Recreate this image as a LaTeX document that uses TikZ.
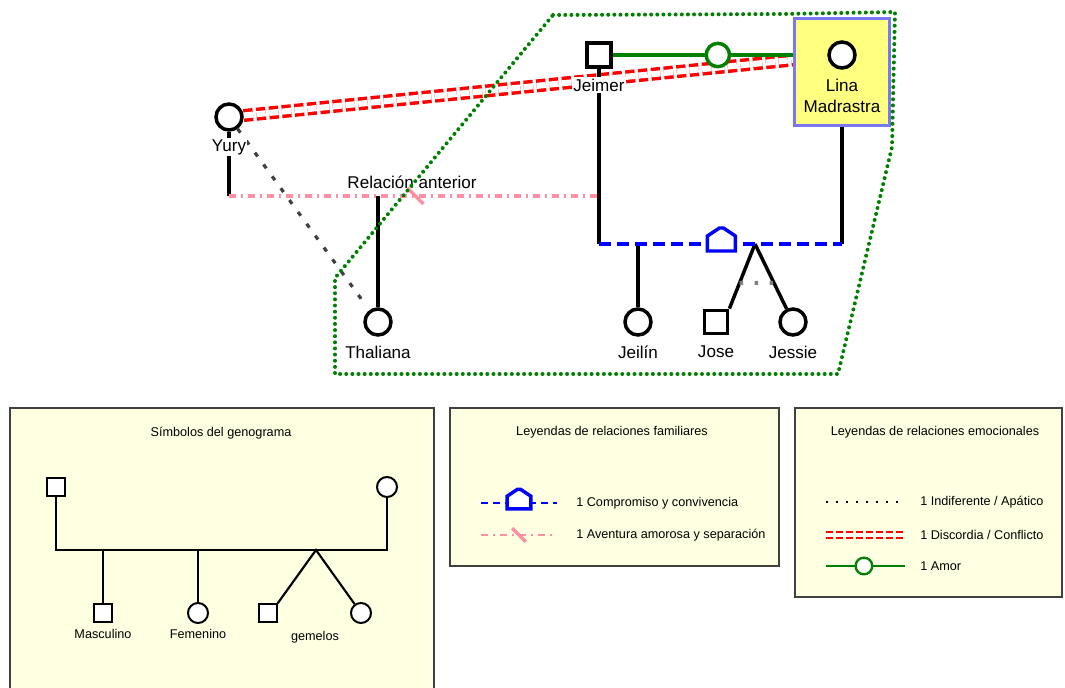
\documentclass[tikz,border=0pt]{standalone}
\usepackage{fontspec}
\setmainfont{Liberation Sans}
\usepackage{xcolor}
\usepackage{tikz}
\usetikzlibrary{positioning, shapes, shapes.geometric}
\definecolor{amorgreen}{HTML}{008000}
\definecolor{confred}{HTML}{FF0000}
\definecolor{pinkrel}{HTML}{FF8FA3}
\definecolor{darkdot}{HTML}{404040}
\definecolor{twingray}{HTML}{808080}
\definecolor{linafill}{HTML}{FFFF80}
\definecolor{linaedge}{HTML}{7878F0}
\definecolor{legfill}{HTML}{FFFFE1}
\definecolor{legedge}{HTML}{404040}
\pgfdeclarelayer{back}
\pgfsetlayers{back,main}

\begin{document}
\begin{tikzpicture}[x=0.75pt, y=-0.75pt, node distance=22.5pt,
			man/.style={rectangle, draw, fill=white, line width=2.6pt, minimum size=18pt, inner sep=0pt},
			woman/.style={circle, draw, fill=white, line width=2.6pt, minimum size=19.5pt, inner sep=0pt},
			lbl/.style={fill=white, inner sep=1pt, font=\fontsize{12.8}{15.75}\selectfont},
			kin/.style={draw=black, line width=2.6pt},
			conflict/.style={draw=confred, line width=2.6pt, double=white, double distance=4.6pt, dash pattern=on 7pt off 2.6pt},
			love/.style={draw=amorgreen, line width=2.6pt},
			ring/.style={circle, draw=amorgreen, fill=white, line width=2.6pt, minimum size=17.5pt, inner sep=0pt},
			indiff/.style={draw=darkdot, line width=2.4pt, dash pattern=on 3.5pt off 7.5pt, shorten >=6pt},
			affair/.style={draw=pinkrel, line width=2.8pt, dash pattern=on 5.25pt off 3.75pt on 1.5pt off 3.75pt},
			cohab/.style={draw=blue, line width=2.6pt, dash pattern=on 9pt off 4.5pt},
			twinlink/.style={draw=twingray, line width=3pt, dash pattern=on 2.6pt off 8.65pt},
			fam/.style={draw=amorgreen, line width=3pt, line cap=round, dash pattern=on 0pt off 4.6pt},
			legbox/.style={rectangle, draw=legedge, fill=legfill, line width=1.1pt, inner sep=0pt},
			legtxt/.style={inner sep=0pt, font=\fontsize{9.5}{11.5}\selectfont},
			house/.pic={\draw[draw=blue, line width=2.6pt, fill=white] (-14,7) -- (-14,-8) -- (-2,-16) -- (2,-16) -- (14,-8) -- (14,7) -- cycle;},
			cut/.pic={\draw[draw=pinkrel, line width=2.6pt] (-8,-8) -- (8,8);}]
			\useasboundingbox (0,0) rectangle (1065,688);
			
			% family
			\node[woman] (yury) at (229,117) {};
			\node[lbl, below of=yury] (yury-l) {Yury};
			\node[man] (jeimer) at (599,55) {};
			\node[lbl, below of=jeimer] (jeimer-l) {Jeimer};
			\node[rectangle, draw=linaedge, fill=linafill, line width=2.6pt, minimum width=71pt, minimum height=80pt] (linabox) at (842,72) {};
			\node[woman] (lina) at (842,55) {};
			\node[lbl, fill=none, align=center] (lina-l) at (842,96) {Lina\\Madrastra};
			\node[woman] (thaliana) at (378,322) {};
			\node[lbl, below of=thaliana] (thaliana-l) {Thaliana};
			\node[woman] (jeilin) at (638,322) {};
			\node[lbl, below of=jeilin] (jeilin-l) {Jeilín};
			\node[man, minimum size=17.5pt] (jose) at (716,322) {};
			\node[lbl, below of=jose] (jose-l) {Jose};
			\node[woman] (jessie) at (793,322) {};
			\node[lbl, below of=jessie] (jessie-l) {Jessie};
			\node[lbl, fill=none] (rel-l) at (412,182) {Relación anterior};
			
			\coordinate (prev-l) at (229,196);
			\coordinate (prev-r) at (599,196);
			\coordinate (cpl-l) at (599,244);
			\coordinate (cpl-r) at (842,244);
			\coordinate (twin-top) at (755,244);
			
			\begin{pgfonlayer}{back}
				\draw (yury) edge[conflict] (lina);
				\draw (jeimer) edge[love] node[ring, pos=0.49] (amor) {} (lina);
				\draw (yury) edge[indiff] (thaliana);
				\draw[kin] (yury) -- (prev-l);
				\draw[kin] (jeimer) -- (cpl-l);
				\draw[kin] (linabox) -- (cpl-r);
				\draw[kin] (thaliana |- prev-l) -- (thaliana);
				\draw[affair] (prev-l) -- coordinate[pos=0.504] (prev-cut) (prev-r);
				\pic at (prev-cut) {cut};
				\draw[kin] (jeilin |- cpl-l) -- (jeilin);
				\draw[kin] (twin-top) -- coordinate[pos=0.6] (tw1) (jose.north east);
				\draw[kin] (twin-top) -- coordinate[pos=0.6] (tw2) (jessie);
				\draw[twinlink] (tw1) -- (tw2);
				\draw[cohab] (cpl-l) -- coordinate[pos=0.504] (hogar) (cpl-r);
				\pic at (hogar) {house};
			\end{pgfonlayer}
			
			% legend: simbolos
			\node[legbox, minimum width=318pt, minimum height=219pt] (leg1) at (222,554) {};
			\node[legtxt] (leg1-t) at (221,433) {Símbolos del genograma};
			\node[man, line width=1.5pt, minimum size=14pt] (pa) at (56,487) {};
			\node[woman, line width=1.5pt, minimum size=15pt] (ma) at (387,487) {};
			\node[man, line width=1.5pt, minimum size=13pt] (hijo) at (103,613) {};
			\node[woman, line width=1.5pt, minimum size=15pt] (hija) at (198,613) {};
			\node[man, line width=1.5pt, minimum size=13pt] (gem1) at (268,613) {};
			\node[woman, line width=1.5pt, minimum size=15pt] (gem2) at (361,613) {};
			\node[legtxt] (hijo-l) at (103,634) {Masculino};
			\node[legtxt] (hija-l) at (198,634) {Femenino};
			\node[legtxt] (gem-l) at (315,637) {gemelos};
			\coordinate (leg-l) at (56,550);
			\coordinate (leg-r) at (387,550);
			\coordinate (leg-tw) at (316,550);
			\draw[kin, line width=1.6pt] (pa) -- (leg-l) -- (leg-r) -- (ma);
			\draw[kin, line width=1.6pt] (hijo |- leg-l) -- (hijo);
			\draw[kin, line width=1.6pt] (hija |- leg-l) -- (hija);
			\draw[kin, line width=1.6pt] (gem1.north east) -- (leg-tw) -- (gem2);
			
			% legend: familiares
			\node[legbox, minimum width=246.75pt, minimum height=118.5pt] (leg2) at (614.5,487) {};
			\node[legtxt] (leg2-t) at (612,432) {Leyendas de relaciones familiares};
			\coordinate (f1a) at (481,503);
			\coordinate (f1b) at (557,503);
			\coordinate (f2a) at (481,535);
			\coordinate (f2b) at (557,535);
			\draw[cohab, line width=1.7pt, dash pattern=on 5.25pt off 3.75pt] (f1a) -- coordinate[pos=0.5] (f1m) (f1b);
			\pic[scale=0.85] at (f1m) {house};
			\draw[affair, line width=1.7pt] (f2a) -- coordinate[pos=0.5] (f2m) (f2b);
			\pic[scale=0.85] at (f2m) {cut};
			\node[legtxt, anchor=west] (f1-l) at (576,503) {1 Compromiso y convivencia};
			\node[legtxt, anchor=west] (f2-l) at (576,535) {1 Aventura amorosa y separación};
			
			% legend: emocionales
			\node[legbox, minimum width=200.25pt, minimum height=141.75pt] (leg3) at (928.5,502.5) {};
			\node[legtxt] (leg3-t) at (935,432) {Leyendas de relaciones emocionales};
			\coordinate (e1a) at (826,502);
			\coordinate (e1b) at (905,502);
			\coordinate (e2a) at (826,535);
			\coordinate (e2b) at (905,535);
			\coordinate (e3a) at (826,566);
			\coordinate (e3b) at (905,566);
			\draw[indiff, draw=black, line width=0.9pt, dash pattern=on 1.2pt off 6.3pt, shorten >=0pt] (e1a) -- (e1b);
			\draw[conflict, line width=1.6pt, double distance=2.6pt, dash pattern=on 5pt off 2.5pt] (e2a) -- (e2b);
			\draw[love, line width=1.7pt] (e3a) -- node[ring, line width=1.7pt, minimum size=12.5pt, pos=0.48] (e3m) {} (e3b);
			\node[legtxt, anchor=west] (e1-l) at (920,502) {1 Indiferente / Apático};
			\node[legtxt, anchor=west] (e2-l) at (920,535) {1 Discordia / Conflicto};
			\node[legtxt, anchor=west] (e3-l) at (920,566) {1 Amor};
			
			% family boundary
			\draw[fam] (553,15) -- (783,14) -- (895,12) -- (892,147) -- (838,374) -- (335,374) -- (335,278) -- cycle;
			
		\end{tikzpicture}
\end{document}
